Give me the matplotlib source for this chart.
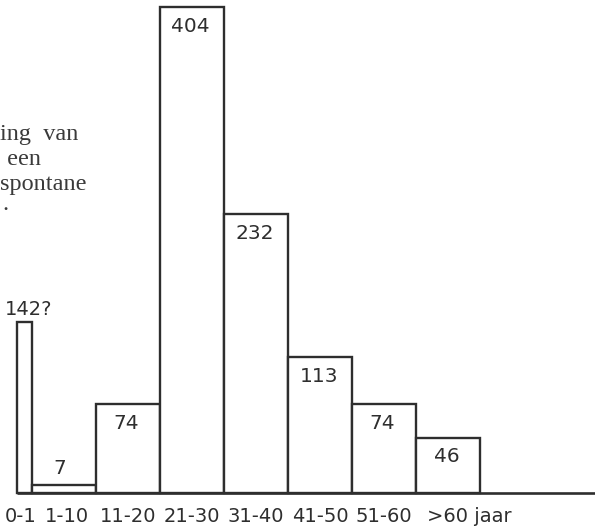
import matplotlib
matplotlib.use("Agg")
import matplotlib.pyplot as plt

# Age groups and counts
age_groups = ["0-1", "1-10", "11-20", "21-30", "31-40", "41-50", "51-60", ">60 jaar"]
counts = [142, 7, 74, 404, 232, 113, 74, 46]
count_labels = ["142?", "7", "74", "404", "232", "113", "74", "46"]
bin_widths = [0.234, 1.0, 1.0, 1.0, 1.0, 1.0, 1.0, 1.0]

# cut-off caption on the left of the page
caption_lines = ["ing  van", " een", "spontane", "."]

INK = "#2e2e2e"
W, H = 595, 530

fig = plt.figure(figsize=(W / 100, H / 100), dpi=100)
ax = fig.add_axes([0, 0, 1, 1])
ax.set_xlim(-0.266, 9.03)
ax.set_ylim(-30.8, 409.8)
ax.axis("off")

lefts = [sum(bin_widths[:i]) for i in range(len(bin_widths))]
ax.bar(lefts, counts, width=bin_widths, align="edge",
       facecolor="white", edgecolor=INK, linewidth=1.7, zorder=2)

# long baseline running off to the right
ax.plot([0, 9.2], [0, 0], color=INK, linewidth=1.9, zorder=3, solid_capstyle="butt")

label_font = {"family": "DejaVu Sans", "color": INK}

for i, (left, w, c, lab) in enumerate(zip(lefts, bin_widths, counts, count_labels)):
    cx = left + w / 2
    if i == 0:
        # question-marked value written above the narrow bar
        ax.annotate(lab, (left, c), xytext=(-9, 2), textcoords="offset points",
                    ha="left", va="bottom", fontsize=14, **label_font)
    elif i == 1:
        ax.annotate(lab, (cx, c), xytext=(-3, 5), textcoords="offset points",
                    ha="center", va="bottom", fontsize=14.5, **label_font)
    else:
        ax.annotate(lab, (cx, c), xytext=(-1, -7), textcoords="offset points",
                    ha="center", va="top", fontsize=14.5, **label_font)

for i, (left, w, g) in enumerate(zip(lefts, bin_widths, age_groups)):
    if i == 0:
        ax.annotate(g, (left + w / 2, 0), xytext=(-3, -21), textcoords="offset points",
                    ha="center", va="baseline", fontsize=14, **label_font)
    elif i == 1:
        ax.annotate(g, (left + w / 2, 0), xytext=(2, -21), textcoords="offset points",
                    ha="center", va="baseline", fontsize=14, **label_font)
    elif i == len(age_groups) - 1:
        ax.annotate(g, (left, 0), xytext=(8, -21), textcoords="offset points",
                    ha="left", va="baseline", fontsize=14, **label_font)
    else:
        ax.annotate(g, (left + w / 2, 0), xytext=(0, -21), textcoords="offset points",
                    ha="center", va="baseline", fontsize=14, **label_font)

cap_pos = [(0, 140), (1, 165), (0, 190), (2, 210)]
for (px, py), line in zip(cap_pos, caption_lines):
    fig.text(px / W, 1 - py / H, line, ha="left", va="baseline",
             fontsize=17.5, family="Liberation Serif", color="#3a3a3a")

fig.savefig("out.png", dpi=100)
